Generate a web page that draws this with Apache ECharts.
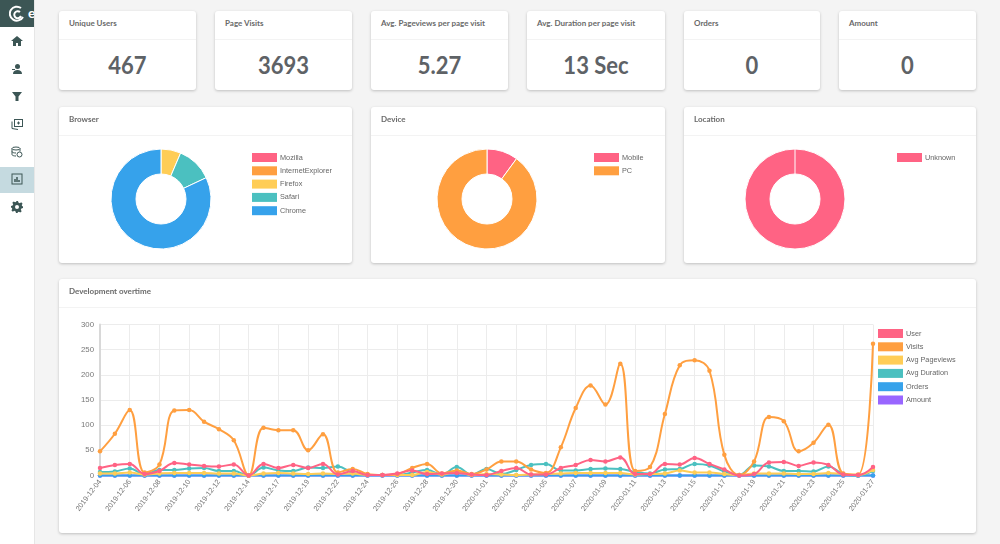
<!DOCTYPE html>
<html>
<head>
<meta charset="utf-8">
<title>Analytics</title>
<script src="https://cdn.jsdelivr.net/npm/echarts@6/dist/echarts.min.js"></script>
<style>
    html, body { margin: 0; padding: 0; width: 1000px; height: 544px; overflow: hidden; background: #f4f4f4; font-family: Lato, sans-serif; }
    .sidebar { position: absolute; left: 0; top: 0; width: 34px; height: 544px; background: #fff; border-right: 1px solid #e6e6e6; overflow: hidden; }
    .logo { position: absolute; left: 0; top: 0; width: 34px; height: 27px; background: #3c5655; color: #fff; overflow: hidden; }
    .logo svg { position: absolute; left: 9px; top: 5px; }
    .logo span { position: absolute; left: 28px; top: 4px; font-size: 14px; font-weight: 700; }
    .active { position: absolute; left: 0; top: 167px; width: 34px; height: 26px; background: #c5dae0; }
    .icon { position: absolute; left: 11px; width: 12px; height: 12px; }
    .card { position: absolute; background: #fff; border-radius: 3px; box-shadow: 0 1px 3px rgba(0,0,0,.22); }
    .card h3 { margin: 0; padding: 0 0 0 10px; height: 28px; line-height: 25px; font-size: 8px; font-weight: 700; color: #6a6a6a; border-bottom: 1px solid #f3f3f3; position: relative; z-index: 1; }
    .card .value { text-align: center; font-size: 25px; font-weight: 700; color: #5e6266; line-height: 48px; transform: scaleX(.88); }
    .chart { position: absolute; left: 0; top: 0; right: 0; bottom: 0; }
    .r1 { top: 11px; height: 79px; }
    .r2 { top: 107px; height: 156px; }
    .c1 { left: 59px; width: 137px; } .c2 { left: 215px; width: 137px; }
    .c3 { left: 371px; width: 137px; } .c4 { left: 527px; width: 138px; }
    .c5 { left: 684px; width: 136px; } .c6 { left: 839px; width: 137px; }
    .p1 { left: 59px; width: 293px; } .p2 { left: 371px; width: 294px; } .p3 { left: 684px; width: 292px; }
    .line { left: 59px; top: 279px; width: 917px; height: 254px; }
</style>
</head>
<body>
<div class="sidebar">
    <div class="logo">
        <svg width="16" height="18" viewBox="0 0 16 18" fill="none" stroke="#fff" stroke-width="2"><path d="M12 3a7 7 0 1 0 2 9"/><path d="M11 7a3.5 3.5 0 1 0 1 4"/></svg>
        <span>e</span>
    </div>
    <div class="active"></div>
    <svg class="icon" style="top:35px" viewBox="0 0 12 12" fill="#3c5655"><path d="M6 1 0 6h2v5h3V8h2v3h3V6h2z"/></svg>
    <svg class="icon" style="top:63px" viewBox="0 0 12 12" fill="#3c5655"><circle cx="6.5" cy="3.5" r="2.5"/><path d="M2 11c0-3 2-4 4.500-4s4.500 1 4.500 4zM1 6h3v1H1z"/></svg>
    <svg class="icon" style="top:90px" viewBox="0 0 12 12" fill="#3c5655"><path d="M1 2h10L7.500 6.500V11h-3V6.500z"/></svg>
    <svg class="icon" style="top:118px" viewBox="0 0 12 12" fill="none" stroke="#3c5655"><rect x="3.500" y="1.500" width="8" height="7"/><path d="M1 3.500v7l6 1M6 5h3M7.500 3.500v3"/></svg>
    <svg class="icon" style="top:146px" viewBox="0 0 12 12" fill="none" stroke="#3c5655"><ellipse cx="5" cy="2.500" rx="4" ry="1.500"/><path d="M1 2.500v6c0 1 2 1.500 4 1.500M9 2.500v3M1 5.500c0 1 2 1.500 4 1.500"/><circle cx="8.500" cy="8.500" r="2.500"/></svg>
    <svg class="icon" style="top:173px" viewBox="0 0 12 12" fill="none" stroke="#3c5655"><rect x="1" y="1" width="10" height="10"/><path d="M4 9V6M6 9V4M8 9V7" stroke-width="1.500"/></svg>
    <svg class="icon" style="top:201px" viewBox="0 0 12 12" fill="#3c5655"><path d="M5 0h2l.4 1.600 1.400.6 1.400-.9 1.400 1.400-.9 1.400.6 1.400L12 5v2l-1.600.4-.6 1.400.9 1.400-1.400 1.400-1.400-.9-1.400.6L7 12H5l-.4-1.600-1.400-.6-1.400.9L.4 9.300l.9-1.400-.6-1.400L0 7V5l1.600-.4.6-1.400-.9-1.400L2.700.4l1.400.9 1.400-.6zM6 4a2 2 0 1 0 0 4 2 2 0 0 0 0-4z"/></svg>
</div>

<div class="card r1 c1"><h3>Unique Users</h3><div class="value">467</div></div>
<div class="card r1 c2"><h3>Page Visits</h3><div class="value">3693</div></div>
<div class="card r1 c3"><h3>Avg. Pageviews per page visit</h3><div class="value">5.27</div></div>
<div class="card r1 c4"><h3>Avg. Duration per page visit</h3><div class="value">13 Sec</div></div>
<div class="card r1 c5"><h3>Orders</h3><div class="value">0</div></div>
<div class="card r1 c6"><h3>Amount</h3><div class="value">0</div></div>

<div class="card r2 p1"><h3>Browser</h3><div class="chart" id="browser"></div></div>
<div class="card r2 p2"><h3>Device</h3><div class="chart" id="device"></div></div>
<div class="card r2 p3"><h3>Location</h3><div class="chart" id="location"></div></div>
<div class="card line"><h3>Development overtime</h3><div class="chart" id="overtime"></div></div>

<script>
const browserNames = ["Mozilla", "InternetExplorer", "Firefox", "Safari", "Chrome"];
const browserValues = [0, 0, 30, 54, 383];
const deviceNames = ["Mobile", "PC"];
const deviceValues = [47, 420];
const locationNames = ["Unknown"];
const locationValues = [467];

const dates = [
    "2019-12-04", "2019-12-05", "2019-12-06", "2019-12-07", "2019-12-08", "2019-12-09", "2019-12-10",
    "2019-12-11", "2019-12-12", "2019-12-13", "2019-12-14", "2019-12-16", "2019-12-17", "2019-12-18",
    "2019-12-19", "2019-12-20", "2019-12-22", "2019-12-23", "2019-12-24", "2019-12-25", "2019-12-26",
    "2019-12-27", "2019-12-28", "2019-12-29", "2019-12-30", "2019-12-31", "2020-01-01", "2020-01-02",
    "2020-01-03", "2020-01-04", "2020-01-05", "2020-01-06", "2020-01-07", "2020-01-08", "2020-01-09",
    "2020-01-10", "2020-01-11", "2020-01-12", "2020-01-13", "2020-01-14", "2020-01-15", "2020-01-16",
    "2020-01-17", "2020-01-18", "2020-01-19", "2020-01-20", "2020-01-21", "2020-01-22", "2020-01-23",
    "2020-01-24", "2020-01-25", "2020-01-26", "2020-01-27"
];
const user = [15, 21, 23, 3, 9, 25, 22, 19, 18, 22, 0, 23, 15, 21, 15, 23, 2, 9, 1, 1, 4, 10, 3, 4, 5, 2,
    1, 9, 15, 2, 2, 15, 21, 31, 28, 36, 3, 3, 23, 22, 35, 23, 12, 0, 3, 26, 27, 19, 26, 21, 2, 1, 17];
const visits = [48, 83, 130, 6, 22, 129, 130, 107, 92, 70, 0, 95, 90, 90, 50, 82, 6, 13, 3, 1, 3, 15, 23, 4, 10, 3,
    12, 28, 28, 12, 5, 56, 134, 179, 141, 222, 9, 17, 122, 219, 229, 208, 41, 1, 28, 116, 108, 48, 65, 101, 4, 2, 262];
const avgPageviews = [4, 4, 6, 2, 4, 5, 5, 5, 4, 4, 0, 4, 5, 4, 3, 4, 3, 4, 1, 1, 1, 1, 7, 2, 8, 1,
    3, 2, 1, 2, 3, 4, 5, 5, 5, 5, 2, 3, 4, 10, 6, 6, 3, 1, 4, 4, 4, 3, 3, 5, 3, 1, 11];
const avgDuration = [7, 8, 14, 2, 11, 11, 14, 15, 9, 9, 0, 16, 10, 9, 16, 15, 18, 5, 1, 1, 1, 6, 11, 2, 17, 2,
    13, 3, 11, 21, 23, 10, 10, 13, 14, 13, 7, 4, 12, 13, 23, 20, 8, 1, 20, 18, 9, 9, 8, 18, 3, 0, 9];
const orders = dates.map(() => 0);
const amount = dates.map(() => 0);
const yTicks = [0, 50, 100, 150, 200, 250, 300];

const palette = ["#ff6384", "#ff9f40", "#ffcd56", "#4bc0c0", "#36a2eb", "#9966ff"];
const textFont = "Liberation Sans";

function legend(names, left) {
    return {
        data: names,
        orient: "vertical",
        left: left,
        top: 46,
        itemWidth: 25,
        itemHeight: 9,
        itemGap: 4.300,
        icon: "rect",
        selectedMode: false,
        itemStyle: { borderWidth: 0 },
        textStyle: { fontSize: 7.300, color: "#666", fontFamily: textFont, padding: [0, 0, 0, -2] },
        padding: 0
    };
}

function donut(id, names, values, colors, cx, legendLeft) {
    let chart = echarts.init(document.getElementById(id));
    chart.setOption({
        animation: false,
        color: colors,
        legend: legend(names, legendLeft),
        series: [{
            type: "pie",
            radius: [25, 50],
            center: [cx, 92],
            startAngle: 90,
            clockwise: true,
            label: { show: false },
            labelLine: { show: false },
            silent: true,
            itemStyle: { borderColor: "#fff", borderWidth: 1 },
            data: names.map((name, i) => ({ name: name, value: values[i] }))
        }]
    });
    return chart;
}

donut("browser", browserNames, browserValues, palette, 102, 193);
donut("device", deviceNames, deviceValues, palette, 116, 223);
let locationChart = donut("location", locationNames, locationValues, palette, 111, 213);
// the single slice still shows its seam at 12 o'clock in the original
locationChart.setOption({
    graphic: [{ type: "line", shape: { x1: 111, y1: 42, x2: 111, y2: 67 }, style: { stroke: "#fff", lineWidth: 1 }, z: 100 }]
});

const lineNames = ["User", "Visits", "Avg Pageviews", "Avg Duration", "Orders", "Amount"];
const lineValues = [user, visits, avgPageviews, avgDuration, orders, amount];

let overtime = echarts.init(document.getElementById("overtime"));
overtime.setOption({
    animation: false,
    color: palette,
    legend: Object.assign(legend(lineNames, 819), { top: 50 }),
    grid: { left: 41, top: 45.500, width: 773, height: 151, containLabel: false },
    xAxis: {
        type: "category",
        data: dates,
        boundaryGap: false,
        axisLine: { show: true, lineStyle: { color: "#e4e4e4" } },
        axisTick: { show: false },
        axisLabel: { interval: 1, rotate: 53, fontSize: 7.300, color: "#777", fontFamily: textFont, margin: 5 },
        splitLine: { show: true, interval: 1, lineStyle: { color: "#ececec" } }
    },
    yAxis: {
        type: "value",
        min: yTicks[0],
        max: yTicks[yTicks.length - 1],
        interval: yTicks[1] - yTicks[0],
        axisLine: { show: true, lineStyle: { color: "#d8d8d8", width: 2 } },
        axisTick: { show: false },
        axisLabel: { fontSize: 7.800, color: "#777", fontFamily: textFont, margin: 6 },
        splitLine: { lineStyle: { color: "#ececec" } }
    },
    series: lineNames.map((name, i) => ({
        name: name,
        type: "line",
        data: lineValues[i],
        smooth: 0.4,
        symbol: "circle",
        symbolSize: 4.500,
        showAllSymbol: true,
        clip: false,
        z: 10 - i,
        lineStyle: { width: 2 },
        silent: true
    }))
});
</script>
</body>
</html>
